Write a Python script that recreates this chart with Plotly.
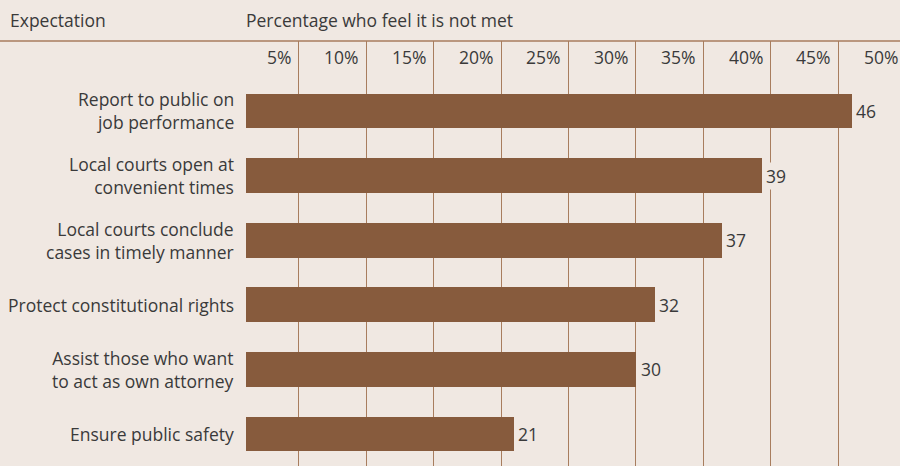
import plotly.graph_objects as go

categories = [
    "Report to public on<br>job performance",
    "Local courts open at<br>convenient times",
    "Local courts conclude<br>cases in timely manner",
    "Protect constitutional rights",
    "Assist those who want<br>to act as own attorney",
    "Ensure public safety",
]
bar_values = [46.0, 39.35, 36.4, 31.4, 30.05, 20.96]
value_labels = ["46", "39", "37", "32", "30", "21"]
tick_values = [5, 10, 15, 20, 25, 30, 35, 40, 45, 50]
tick_labels = ["5%", "10%", "15%", "20%", "25%", "30%", "35%", "40%", "45%", "50%"]

BG = "#F0E8E2"
BAR = "#875B3D"
GRID = "#A87D5E"
TEXT = "#3A3A3A"
FONT = "Open Sans"
FS = 17.5
BASE = 1.1

X0 = 231.2      # pixel of value 0
PPU = 13.49     # pixels per unit
W = 900

ypos = list(range(len(categories)))

fig = go.Figure()
fig.add_trace(go.Bar(
    y=ypos,
    x=[v - BASE for v in bar_values],
    base=BASE,
    orientation="h",
    width=0.537,
    marker=dict(color=BAR, line=dict(width=0)),
    hoverinfo="skip",
))

annotations = []
for y, c in zip(ypos, categories):
    annotations.append(dict(
        x=0.36, y=y, xref="x", yref="y", text=c, showarrow=False,
        xanchor="right", yanchor="middle", align="right",
        font=dict(family=FONT, size=FS, color=TEXT),
    ))
for y, v, lab in zip(ypos, bar_values, value_labels):
    annotations.append(dict(
        x=v, y=y, xref="x", yref="y", text=lab, showarrow=False,
        xanchor="left", yanchor="middle", xshift=2,
        font=dict(family=FONT, size=FS, color=TEXT),
        bgcolor=BG, borderpad=1,
    ))
for tv, tl in zip(tick_values, tick_labels):
    annotations.append(dict(
        x=(X0 + tv * PPU) / W, y=-0.836, xref="paper", yref="y", text=tl,
        showarrow=False, xanchor="right", yanchor="middle", xshift=-6,
        font=dict(family=FONT, size=FS, color=TEXT),
    ))
annotations.append(dict(
    x=8 / W, y=1.049, xref="paper", yref="paper", text="Expectation",
    showarrow=False, xanchor="left", yanchor="middle",
    font=dict(family=FONT, size=FS, color=TEXT),
))
annotations.append(dict(
    x=244 / W, y=1.049, xref="paper", yref="paper",
    text="Percentage who feel it is not met",
    showarrow=False, xanchor="left", yanchor="middle",
    font=dict(family=FONT, size=FS, color=TEXT),
))

fig.update_layout(
    width=900, height=466,
    margin=dict(l=0, r=0, t=41, b=0),
    paper_bgcolor=BG, plot_bgcolor=BG,
    showlegend=False,
    bargap=0,
    xaxis=dict(
        domain=[X0 / W, 1], range=[0, (W - X0) / PPU],
        tickvals=tick_values, showticklabels=False, ticks="",
        showgrid=True, gridcolor=GRID, gridwidth=1,
        zeroline=False, showline=False, fixedrange=True,
    ),
    yaxis=dict(
        range=[5.494, -1.083], showticklabels=False, ticks="",
        showgrid=False, zeroline=False, showline=False, fixedrange=True,
    ),
    annotations=annotations,
    shapes=[dict(
        type="line", xref="paper", yref="paper", x0=0, x1=1, y0=1, y1=1,
        line=dict(color=GRID, width=1.5),
    )],
)

fig.write_html(
    "out.html",
    config={"displayModeBar": False},
    post_script="document.body.style.margin='0px';document.body.style.background='" + BG + "';",
)
